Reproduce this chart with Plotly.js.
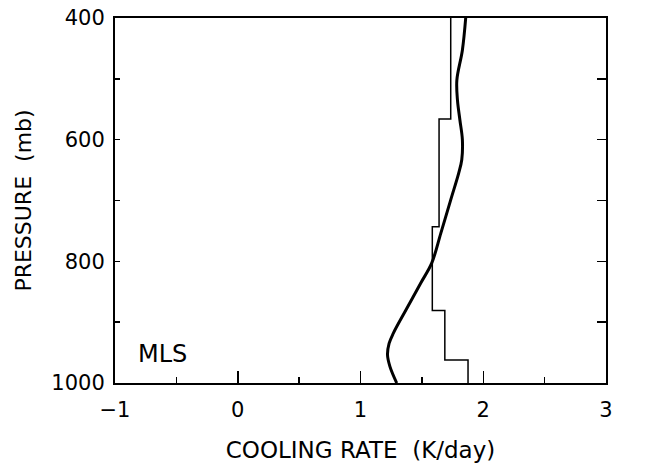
<!DOCTYPE html>
<html>
<head>
<meta charset="utf-8">
<script src="https://cdn.plot.ly/plotly-3.0.1.min.js"></script>
<style>html,body{margin:0;padding:0;background:#fff;}#chart{width:669px;height:469px;}</style>
</head>
<body>
<div id="chart"></div>
<script>
// Smooth (calculated) cooling-rate profile
const curveRate = [1.857, 1.83, 1.785, 1.79, 1.81, 1.83, 1.825, 1.80, 1.735, 1.654, 1.58, 1.49, 1.37, 1.268, 1.233, 1.22, 1.24, 1.295];
const curvePressure = [400, 453, 502, 535, 568, 600, 633, 655, 699, 754, 803, 836, 880, 918, 935, 954, 973, 1000];

// Layer-mean (step) cooling rates
const layerBounds = [400, 566, 743, 881, 962, 1000];
const layerRate = [1.735, 1.64, 1.585, 1.687, 1.876];

// Axis ticks
const xTickVals = [-1, 0, 1, 2, 3];
const xTickText = ['\u22121', '0', '1', '2', '3'];
const xMinorVals = [-0.5, 0.5, 1.5, 2.5];
const yTickVals = [400, 500, 600, 700, 800, 900, 1000];
const yTickText = ['400', '', '600', '', '800', '', '1000'];
const yRightTicks = [500, 600, 700, 800, 900];

const stepX = [], stepY = [];
for (let i = 0; i < layerRate.length; i++) {
  stepX.push(layerRate[i], layerRate[i]);
  stepY.push(layerBounds[i], layerBounds[i + 1]);
}

const FONT = 'DejaVu Sans, sans-serif';

const traces = [
  {x: stepX, y: stepY, mode: 'lines', line: {color: '#000', width: 1.5}, hoverinfo: 'none', showlegend: false},
  {x: curveRate, y: curvePressure, mode: 'lines', line: {color: '#000', width: 3, shape: 'spline', smoothing: 1}, hoverinfo: 'none', showlegend: false},
  {x: curveRate, y: curvePressure, yaxis: 'y2', mode: 'lines', line: {color: 'rgba(0,0,0,0)', width: 0}, hoverinfo: 'none', showlegend: false}
];

const layout = {
  width: 669, height: 469,
  margin: {l: 115, r: 63, t: 18, b: 86},
  paper_bgcolor: '#fff', plot_bgcolor: '#fff',
  font: {family: FONT, color: '#000', size: 21},
  xaxis: {
    range: [-1, 3], showgrid: false, zeroline: false,
    showline: true, linecolor: '#000', linewidth: 2, mirror: true,
    ticks: 'inside', ticklen: 12, tickwidth: 1.5, tickcolor: '#000',
    tickvals: xTickVals, ticktext: xTickText, ticklabelstandoff: 7,
    tickfont: {size: 21, family: FONT},
    minor: {tickvals: xMinorVals, ticks: 'inside', ticklen: 6, tickwidth: 1.5, tickcolor: '#000'},
    title: {text: 'COOLING RATE  (K/day)', font: {size: 23, family: FONT}, standoff: 21}
  },
  yaxis: {
    range: [1000, 400], showgrid: false, zeroline: false,
    showline: true, linecolor: '#000', linewidth: 2, mirror: true,
    ticks: 'inside', ticklen: 5, tickwidth: 1.5, tickcolor: '#000',
    tickvals: yTickVals, ticktext: yTickText, ticklabelstandoff: 4,
    tickfont: {size: 21, family: FONT},
    title: {text: 'PRESSURE  (mb)', font: {size: 22, family: FONT}, standoff: 14}
  },
  yaxis2: {
    range: [1000, 400], overlaying: 'y', side: 'right', showgrid: false, zeroline: false,
    showline: false, ticks: 'inside', ticklen: 9, tickwidth: 1.5, tickcolor: '#000',
    tickvals: yRightTicks, showticklabels: false
  },
  annotations: [
    {x: -0.83, y: 953, xref: 'x', yref: 'y', text: 'MLS', showarrow: false, xanchor: 'left', yanchor: 'middle', font: {size: 24, family: FONT}}
  ]
};

Plotly.newPlot('chart', traces, layout, {staticPlot: true, displayModeBar: false});
</script>
</body>
</html>
